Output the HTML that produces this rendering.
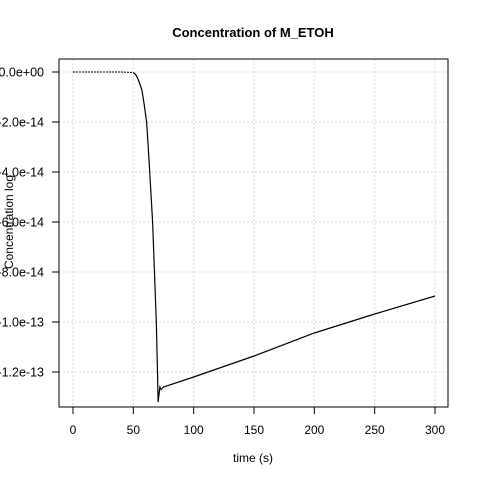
<!DOCTYPE html>
<html><head><meta charset="utf-8"><style>
body{margin:0;background:#fff;}
svg text{font-family:"Liberation Sans",Arial,sans-serif;}
</style></head><body>
<svg width="480" height="480" id="c">
<text x="253" y="37" text-anchor="middle" font-size="13" font-weight="bold">Concentration of M_ETOH</text>
<text x="253" y="462" text-anchor="middle" font-size="12">time (s)</text>
<text transform="translate(13,222) rotate(-90)" text-anchor="middle" font-size="12">Concentration log</text>
<rect x="59" y="59" width="389" height="348" fill="none" stroke="#000"/>
</svg>
<script>
const xTicks=[0,50,100,150,200,250,300];
const yTicks=[0,-2e-14,-4e-14,-6e-14,-8e-14,-1e-13,-1.2e-13];
const yTickLabels=["0.0e+00","-2.0e-14","-4.0e-14","-6.0e-14","-8.0e-14","-1.0e-13","-1.2e-13"];
const times=[0,10,20,30,40,50,52,54,57,59,61,63,66,69,70,70.5,71,72,73,75,100,150,200,250,300];
const values=[0,0,0,0,0,-0.02,-0.1,-0.3,-0.7,-1.3,-2,-3.5,-6,-10,-12,-13.2,-13.0,-12.6,-12.7,-12.6,-12.2,-11.36,-10.44,-9.68,-8.96].map(v=>v*1e-14);
const svg=document.getElementById('c');
const NS='http://www.w3.org/2000/svg';
const X=t=>73+t*(362/300);
const Y=v=>72+(-v)*(50/2e-14);
function mk(tag,attrs){const e=document.createElementNS(NS,tag);for(const k in attrs)e.setAttribute(k,attrs[k]);svg.insertBefore(e,svg.lastElementChild);return e;}
xTicks.forEach(t=>{
 const g=mk('line',{x1:X(t),x2:X(t),y1:59,y2:407,stroke:'#d8d8d8','stroke-dasharray':'2,2'});
 
 
 const tk=mk('line',{x1:X(t),x2:X(t),y1:407,y2:414,stroke:'#000'});
 
 
 const l=mk('text',{x:X(t),y:434,'text-anchor':'middle','font-size':12});
 l.textContent=t;
 
 
});
yTicks.forEach((v,i)=>{
 const g=mk('line',{x1:59,x2:448,y1:Y(v),y2:Y(v),stroke:'#d8d8d8','stroke-dasharray':'2,2'});
 
 
 const tk=mk('line',{x1:52,x2:59,y1:Y(v),y2:Y(v),stroke:'#000'});
 
 
 const l=mk('text',{x:44,y:Y(v)+4.5,'text-anchor':'end','font-size':12.5});
 l.textContent=yTickLabels[i];
 
 
});
let dd='',sd='';
times.forEach((t,i)=>{
 const p=X(t).toFixed(1)+','+Y(values[i]).toFixed(1);
 if(t<=50)dd+=(dd?'L':'M')+p;
 if(t>=50)sd+=(sd?'L':'M')+p;
});
const l1=mk('path',{d:dd,fill:'none',stroke:'#000','stroke-dasharray':'2,1'});


const l2=mk('path',{d:sd,fill:'none',stroke:'#000','stroke-width':1.2});


</script>
</body></html>
